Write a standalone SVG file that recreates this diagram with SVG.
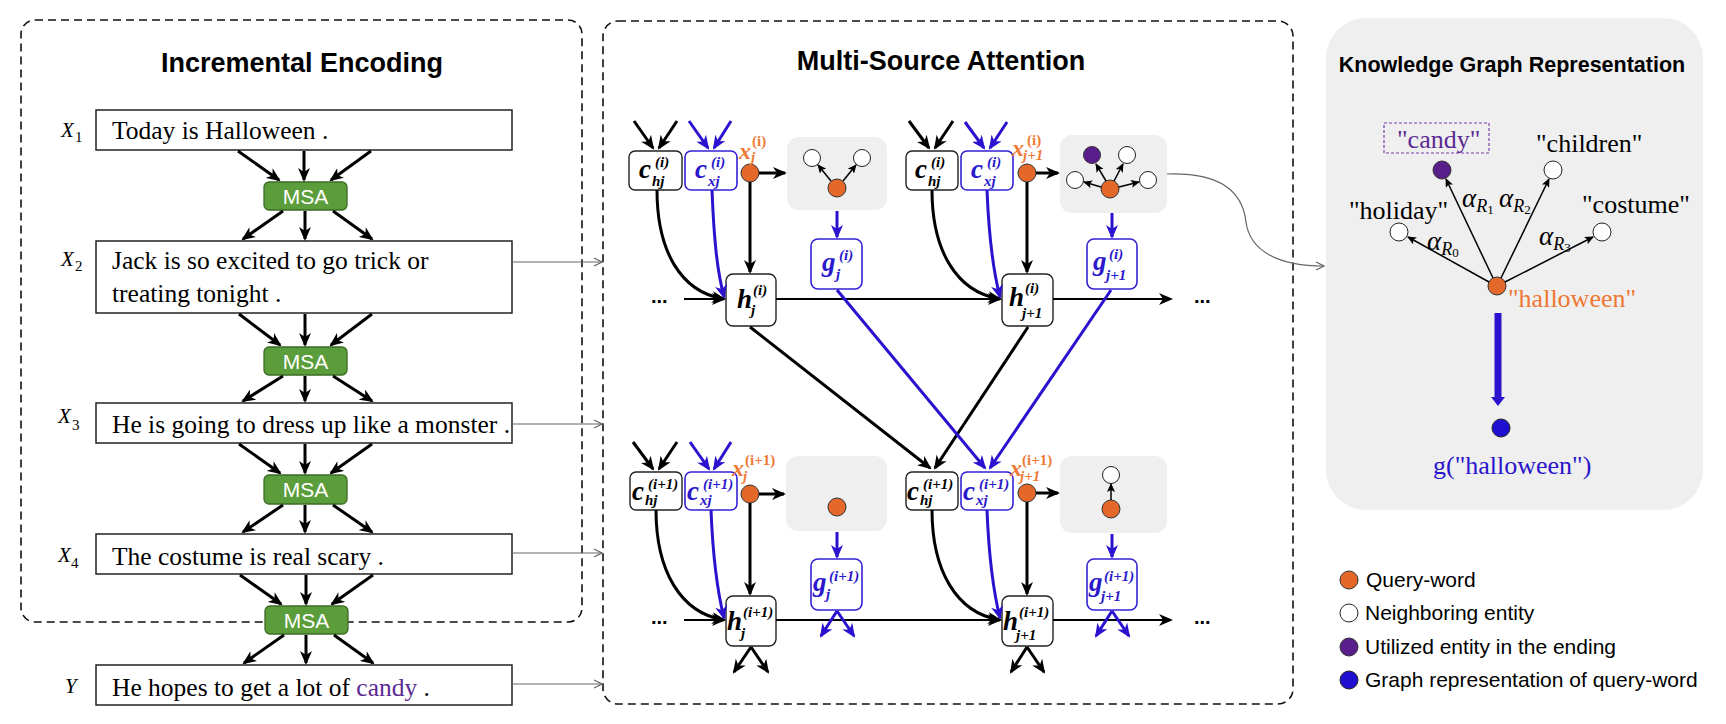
<svg xmlns="http://www.w3.org/2000/svg" width="1726" height="724" viewBox="0 0 1726 724">
<defs>
<style>
.dash{fill:none;stroke:#111;stroke-width:1.6;stroke-dasharray:8 5}
.sbox{fill:#fff;stroke:#222;stroke-width:1.5}
.sent{font-family:"Liberation Serif","Times New Roman",serif;font-size:25.5px;fill:#000}
.lab{font-family:"Liberation Serif","Times New Roman",serif;font-style:italic;font-size:21px;fill:#000}
.sub{font-style:normal;font-size:15px}
.title{font-family:"Liberation Sans",Arial,sans-serif;font-weight:bold;font-size:27px;fill:#000}
.ktitle{font-family:"Liberation Sans",Arial,sans-serif;font-weight:bold;font-size:21.5px;fill:#000}
.msa rect{fill:#5c9d3b;stroke:#3b6b26;stroke-width:1.3}
.msa text{font-family:"Liberation Sans",Arial,sans-serif;font-size:21px;fill:#fff;text-anchor:middle}
.bk{fill:#fff;stroke:#222;stroke-width:1.4}
.bb{fill:#fff;stroke:#3322d4;stroke-width:1.6}
.m{font-family:"Liberation Serif","Times New Roman",serif;font-weight:bold;font-style:italic}
.tk{fill:#000}
.tb{fill:#2a18cc}
.to{fill:#ef7a35}
.gbox{fill:#efefef}
.qo{fill:#e4682a;stroke:#333;stroke-width:1}
.qw{fill:#fff;stroke:#222;stroke-width:1}
.qp{fill:#5a1e8c;stroke:#333;stroke-width:1}
.qb{fill:#1f0fcf;stroke:#222;stroke-width:1}
.ak{fill:none;stroke:#000;stroke-width:3;marker-end:url(#hk)}
.ab{fill:none;stroke:#2a12cf;stroke-width:3;marker-end:url(#hb)}
.ah{fill:none;stroke:#000;stroke-width:2;marker-end:url(#hk)}
.as{fill:none;stroke:#000;stroke-width:1.5;marker-end:url(#hs)}
.ag{fill:none;stroke:#666;stroke-width:1.2;marker-end:url(#hg)}
.kg{font-family:"Liberation Serif","Times New Roman",serif;font-size:26px}
.al{font-family:"Liberation Serif","Times New Roman",serif;font-style:italic;font-size:27px;fill:#000}
.leg{font-family:"Liberation Sans",Arial,sans-serif;font-size:21px;fill:#000}
.dots{font-family:"Liberation Sans",Arial,sans-serif;font-weight:bold;font-size:20px;fill:#000}
</style>
<marker id="hk" viewBox="0 0 14 12" refX="12" refY="6" markerWidth="14" markerHeight="12" markerUnits="userSpaceOnUse" orient="auto"><path d="M0,0 L14,6 L0,12 L4,6 z" fill="#000"/></marker>
<marker id="hb" viewBox="0 0 14 12" refX="12" refY="6" markerWidth="14" markerHeight="12" markerUnits="userSpaceOnUse" orient="auto"><path d="M0,0 L14,6 L0,12 L4,6 z" fill="#2a12cf"/></marker>
<marker id="hs" viewBox="0 0 9 8" refX="8" refY="4" markerWidth="9" markerHeight="8" markerUnits="userSpaceOnUse" orient="auto"><path d="M0,0 L9,4 L0,8 L2,4 z" fill="#000"/></marker>
<marker id="hg" viewBox="0 0 10 10" refX="9" refY="5" markerWidth="10" markerHeight="10" markerUnits="userSpaceOnUse" orient="auto"><path d="M1,1 L9,5 L1,9" fill="none" stroke="#666" stroke-width="1.2"/></marker>
</defs>
<rect x="0" y="0" width="1726" height="724" fill="#fff"/>

<!-- panels -->
<g id="panel-incremental">
<rect class="dash" x="21" y="20" width="561" height="602" rx="14"/>
<text class="title" x="302" y="72" text-anchor="middle">Incremental Encoding</text>
</g>
<g id="panel-msa">
<rect class="dash" x="603" y="21" width="690" height="683" rx="15"/>
<text class="title" x="941" y="70" text-anchor="middle">Multi-Source Attention</text>
</g>
<g id="panel-kg">
<rect x="1326" y="18" width="377" height="492" rx="40" fill="#efefef"/>
<text class="ktitle" x="1512" y="72" text-anchor="middle">Knowledge Graph Representation</text>
</g>

<!-- sentence nodes -->
<g id="x1"><rect class="sbox" x="96" y="110" width="416" height="40"/><text class="sent" x="112" y="139">Today is Halloween .</text><text class="lab" x="61" y="137">X<tspan class="sub" x="75" y="142">1</tspan></text></g>
<g id="x2"><rect class="sbox" x="96" y="241" width="416" height="72"/><text class="sent" x="112" y="269">Jack is so excited to go trick or</text><text class="sent" x="112" y="302">treating tonight .</text><text class="lab" x="61" y="266">X<tspan class="sub" x="75" y="271">2</tspan></text></g>
<g id="x3"><rect class="sbox" x="96" y="403" width="416" height="40"/><text class="sent" x="112" y="433">He is going to dress up like a monster .</text><text class="lab" x="58" y="423">X<tspan class="sub" x="72" y="430">3</tspan></text></g>
<g id="x4"><rect class="sbox" x="96" y="534" width="416" height="40"/><text class="sent" x="112" y="565">The costume is real scary .</text><text class="lab" x="58" y="562">X<tspan class="sub" x="71" y="568">4</tspan></text></g>
<g id="y"><rect class="sbox" x="96" y="665" width="416" height="40"/><text class="sent" x="112" y="696">He hopes to get a lot of <tspan fill="#5b2a92">candy</tspan> .</text><text class="lab" x="65" y="693">Y</text></g>

<!-- MSA nodes -->
<g id="msa1" class="msa"><rect x="264" y="182" width="83" height="28" rx="5"/><text x="305.5" y="204">MSA</text></g>
<g id="msa2" class="msa"><rect x="264" y="347" width="83" height="28" rx="5"/><text x="305.5" y="369">MSA</text></g>
<g id="msa3" class="msa"><rect x="264" y="475" width="83" height="29" rx="5"/><text x="305.5" y="497">MSA</text></g>
<g id="msa4" class="msa"><rect x="265" y="606" width="83" height="28" rx="5"/><text x="306.5" y="628">MSA</text></g>

<!-- attention layer i -->
<g id="c-hj-i"><rect class="bk" x="629" y="151" width="53" height="39" rx="6"/><text class="m tk"><tspan x="639" y="178" font-size="27">c</tspan><tspan x="655" y="167" font-size="15">(i)</tspan><tspan x="652" y="186" font-size="15">hj</tspan></text></g>
<g id="c-xj-i"><rect class="bb" x="685" y="151" width="52" height="39" rx="6"/><text class="m tb"><tspan x="695" y="178" font-size="27">c</tspan><tspan x="711" y="167" font-size="15">(i)</tspan><tspan x="708" y="186" font-size="15">xj</tspan></text></g>
<g id="x-j-i"><circle class="qo" cx="750" cy="173" r="9"/><text class="to" font-family="Liberation Serif, serif" font-weight="bold"><tspan x="739" y="159" font-size="24" font-style="italic">x</tspan><tspan x="752" y="146" font-size="15">(i)</tspan><tspan x="751" y="162" font-size="15" font-style="italic">j</tspan></text></g>
<g id="graph-j-i"><rect class="gbox" x="787" y="137" width="100" height="73" rx="12"/><circle class="qw" cx="812" cy="158" r="8.5"/><circle class="qw" cx="862" cy="158" r="8.5"/><circle class="qo" cx="837" cy="188" r="9"/></g>
<g id="g-j-i"><rect class="bb" x="811" y="239" width="51" height="50" rx="7"/><text class="m tb"><tspan x="822" y="271" font-size="27">g</tspan><tspan x="839" y="260" font-size="15">(i)</tspan><tspan x="836" y="279" font-size="15">j</tspan></text></g>
<g id="h-j-i"><rect class="bk" x="726" y="274" width="50" height="52" rx="7"/><text class="m tk"><tspan x="737" y="308" font-size="27">h</tspan><tspan x="753" y="295" font-size="15">(i)</tspan><tspan x="751" y="315" font-size="15">j</tspan></text></g>

<g id="c-hj-i-2"><rect class="bk" x="906" y="151" width="52" height="39" rx="6"/><text class="m tk"><tspan x="915" y="178" font-size="27">c</tspan><tspan x="931" y="167" font-size="15">(i)</tspan><tspan x="928" y="186" font-size="15">hj</tspan></text></g>
<g id="c-xj-i-2"><rect class="bb" x="961" y="151" width="52" height="39" rx="6"/><text class="m tb"><tspan x="971" y="178" font-size="27">c</tspan><tspan x="987" y="167" font-size="15">(i)</tspan><tspan x="984" y="186" font-size="15">xj</tspan></text></g>
<g id="x-j1-i"><circle class="qo" cx="1027" cy="173" r="9"/><text class="to" font-family="Liberation Serif, serif" font-weight="bold"><tspan x="1012" y="156" font-size="24" font-style="italic">x</tspan><tspan x="1027" y="145" font-size="15">(i)</tspan><tspan x="1023" y="160" font-size="15" font-style="italic">j+1</tspan></text></g>
<g id="graph-j1-i"><rect class="gbox" x="1060" y="135" width="107" height="78" rx="12"/><circle class="qp" cx="1092" cy="155" r="8.5"/><circle class="qw" cx="1127" cy="155" r="8.5"/><circle class="qw" cx="1075" cy="180" r="8.5"/><circle class="qw" cx="1148" cy="180" r="8.5"/><circle class="qo" cx="1110" cy="189" r="9"/></g>
<g id="g-j1-i"><rect class="bb" x="1087" y="239" width="50" height="50" rx="7"/><text class="m tb"><tspan x="1093" y="270" font-size="27">g</tspan><tspan x="1109" y="259" font-size="15">(i)</tspan><tspan x="1106" y="280" font-size="15">j+1</tspan></text></g>
<g id="h-j1-i"><rect class="bk" x="1002" y="274" width="51" height="52" rx="7"/><text class="m tk"><tspan x="1009" y="306" font-size="27">h</tspan><tspan x="1025" y="293" font-size="15">(i)</tspan><tspan x="1022" y="318" font-size="15">j+1</tspan></text></g>

<!-- attention layer i+1 -->
<g id="c-hj-i1"><rect class="bk" x="630" y="472" width="52" height="38" rx="6"/><text class="m tk"><tspan x="632" y="500" font-size="27">c</tspan><tspan x="648" y="489" font-size="15">(i+1)</tspan><tspan x="645" y="505" font-size="15">hj</tspan></text></g>
<g id="c-xj-i1"><rect class="bb" x="685" y="472" width="52" height="38" rx="6"/><text class="m tb"><tspan x="687" y="500" font-size="27">c</tspan><tspan x="703" y="489" font-size="15">(i+1)</tspan><tspan x="700" y="505" font-size="15">xj</tspan></text></g>
<g id="x-j-i1"><circle class="qo" cx="750" cy="494" r="9"/><text class="to" font-family="Liberation Serif, serif" font-weight="bold"><tspan x="732" y="476" font-size="24" font-style="italic">x</tspan><tspan x="745" y="465" font-size="15">(i+1)</tspan><tspan x="743" y="481" font-size="15" font-style="italic">j</tspan></text></g>
<g id="graph-j-i1"><rect class="gbox" x="786" y="456" width="101" height="75" rx="12"/><circle class="qo" cx="837" cy="507" r="9"/></g>
<g id="g-j-i1"><rect class="bb" x="811" y="559" width="51" height="51" rx="7"/><text class="m tb"><tspan x="813" y="591" font-size="27">g</tspan><tspan x="829" y="581" font-size="15">(i+1)</tspan><tspan x="826" y="599" font-size="15">j</tspan></text></g>
<g id="h-j-i1"><rect class="bk" x="726" y="596" width="50" height="50" rx="7"/><text class="m tk"><tspan x="727" y="630" font-size="27">h</tspan><tspan x="743" y="617" font-size="15">(i+1)</tspan><tspan x="741" y="638" font-size="15">j</tspan></text></g>

<g id="c-hj-i1-2"><rect class="bk" x="906" y="472" width="52" height="38" rx="6"/><text class="m tk"><tspan x="907" y="500" font-size="27">c</tspan><tspan x="923" y="489" font-size="15">(i+1)</tspan><tspan x="920" y="505" font-size="15">hj</tspan></text></g>
<g id="c-xj-i1-2"><rect class="bb" x="961" y="472" width="52" height="38" rx="6"/><text class="m tb"><tspan x="963" y="500" font-size="27">c</tspan><tspan x="979" y="489" font-size="15">(i+1)</tspan><tspan x="976" y="505" font-size="15">xj</tspan></text></g>
<g id="x-j1-i1"><circle class="qo" cx="1027" cy="493" r="9"/><text class="to" font-family="Liberation Serif, serif" font-weight="bold"><tspan x="1010" y="476" font-size="24" font-style="italic">x</tspan><tspan x="1022" y="465" font-size="15">(i+1)</tspan><tspan x="1020" y="481" font-size="15" font-style="italic">j+1</tspan></text></g>
<g id="graph-j1-i1"><rect class="gbox" x="1060" y="456" width="107" height="77" rx="12"/><circle class="qw" cx="1111" cy="475" r="8.5"/><circle class="qo" cx="1111" cy="509" r="9"/></g>
<g id="g-j1-i1"><rect class="bb" x="1087" y="559" width="50" height="51" rx="7"/><text class="m tb"><tspan x="1089" y="591" font-size="27">g</tspan><tspan x="1104" y="581" font-size="15">(i+1)</tspan><tspan x="1101" y="601" font-size="15">j+1</tspan></text></g>
<g id="h-j1-i1"><rect class="bk" x="1002" y="596" width="51" height="50" rx="7"/><text class="m tk"><tspan x="1003" y="630" font-size="27">h</tspan><tspan x="1019" y="617" font-size="15">(i+1)</tspan><tspan x="1016" y="640" font-size="15">j+1</tspan></text></g>

<g id="ellipses"><text class="dots" x="651" y="303">...</text><text class="dots" x="1194" y="303">...</text><text class="dots" x="651" y="624">...</text><text class="dots" x="1194" y="624">...</text></g>

<!-- knowledge graph nodes -->
<g id="kg-candy"><rect x="1384" y="123" width="105" height="30" fill="none" stroke="#7a3fb0" stroke-width="1.2" stroke-dasharray="3 2"/><text class="kg" x="1397" y="148" fill="#5b2a92">"candy"</text><circle class="qp" cx="1442" cy="170" r="9"/></g>
<g id="kg-children"><text class="kg" x="1536" y="152" fill="#000">"children"</text><circle class="qw" cx="1553" cy="170" r="9"/></g>
<g id="kg-holiday"><text class="kg" x="1349" y="219" fill="#000">"holiday"</text><circle class="qw" cx="1399" cy="232" r="9"/></g>
<g id="kg-costume"><text class="kg" x="1582" y="213" fill="#000">"costume"</text><circle class="qw" cx="1602" cy="232" r="9"/></g>
<g id="kg-halloween"><circle class="qo" cx="1497" cy="286" r="9"/><text class="kg" x="1508" y="307" fill="#ee7733">"halloween"</text></g>
<g id="kg-weights">
<text class="al" x="1427" y="250">α<tspan font-size="18" dy="5">R</tspan><tspan font-size="13" dy="2" font-style="normal">0</tspan></text>
<text class="al" x="1462" y="207">α<tspan font-size="18" dy="5">R</tspan><tspan font-size="13" dy="2" font-style="normal">1</tspan></text>
<text class="al" x="1499" y="207">α<tspan font-size="18" dy="5">R</tspan><tspan font-size="13" dy="2" font-style="normal">2</tspan></text>
<text class="al" x="1539" y="245">α<tspan font-size="18" dy="5">R</tspan><tspan font-size="13" dy="2" font-style="normal">3</tspan></text>
</g>
<g id="kg-g"><circle class="qb" cx="1501" cy="428" r="9"/><text class="kg" x="1433" y="474" fill="#2a14cc">g("halloween")</text></g>

<!-- legend -->
<g id="legend">
<circle class="qo" cx="1349" cy="580" r="9"/><text class="leg" x="1366" y="587">Query-word</text>
<circle class="qw" cx="1349" cy="613" r="9"/><text class="leg" x="1365" y="620">Neighboring entity</text>
<circle class="qp" cx="1349" cy="647" r="9"/><text class="leg" x="1365" y="654">Utilized entity in the ending</text>
<circle class="qb" cx="1349" cy="680" r="9"/><text class="leg" x="1365" y="687">Graph representation of query-word</text>
</g>

<!-- connectors -->
<g id="connectors">
<path class="ak" d="M238,151 L279,180"/><path class="ak" d="M304,151 L304,180"/><path class="ak" d="M371,151 L331,180"/>
<path class="ak" d="M283,211 L243,239"/><path class="ak" d="M305,211 L305,239"/><path class="ak" d="M333,211 L372,239"/>
<path class="ak" d="M239,314 L280,345"/><path class="ak" d="M305,314 L305,345"/><path class="ak" d="M372,314 L331,345"/>
<path class="ak" d="M283,376 L243,401"/><path class="ak" d="M305,376 L305,401"/><path class="ak" d="M333,376 L372,401"/>
<path class="ak" d="M239,444 L280,473"/><path class="ak" d="M305,444 L305,473"/><path class="ak" d="M372,444 L331,473"/>
<path class="ak" d="M283,505 L243,532"/><path class="ak" d="M305,505 L305,532"/><path class="ak" d="M333,505 L372,532"/>
<path class="ak" d="M240,575 L281,604"/><path class="ak" d="M306,575 L306,604"/><path class="ak" d="M373,575 L332,604"/>
<path class="ak" d="M284,635 L244,663"/><path class="ak" d="M306,635 L306,663"/><path class="ak" d="M334,635 L373,663"/>
<path class="ag" d="M512,262 L602,262"/><path class="ag" d="M512,424 L602,424"/><path class="ag" d="M512,553 L602,553"/><path class="ag" d="M512,684 L602,684"/>
<path class="ak" d="M634,121 L653,148"/><path class="ak" d="M677,121 L659,148"/>
<path class="ab" d="M689,121 L708,148"/><path class="ab" d="M731,121 L714,148"/>
<path class="ak" d="M909,121 L929,148"/><path class="ak" d="M953,121 L935,148"/>
<path class="ab" d="M965,122 L984,148"/><path class="ab" d="M1007,122 L990,148"/>
<path class="ak" d="M633,442 L653,469"/><path class="ak" d="M677,442 L659,469"/>
<path class="ab" d="M690,442 L709,469"/><path class="ab" d="M731,442 L714,469"/>
<path class="ak" d="M759,173 L785,173"/><path class="ak" d="M1036,173 L1058,173"/>
<path class="ak" d="M759,494 L784,494"/><path class="ak" d="M1036,493 L1058,493"/>
<path class="ak" d="M750,182 L750,272"/><path class="ak" d="M1027,182 L1027,272"/>
<path class="ak" d="M750,503 L750,594"/><path class="ak" d="M1027,502 L1027,594"/>
<path class="ab" d="M837,211 L837,237"/><path class="ab" d="M1112,213 L1112,237"/>
<path class="ab" d="M837,532 L837,557"/><path class="ab" d="M1112,534 L1112,557"/>
<path class="ak" d="M657,190 C657,250 680,292 724,299"/><path class="ab" d="M712,190 C714,240 717,270 724,297"/>
<path class="ak" d="M932,190 C932,250 956,292 1000,299"/><path class="ab" d="M987,190 C989,240 993,270 1000,297"/>
<path class="ak" d="M656,510 C656,570 680,613 724,620"/><path class="ab" d="M711,510 C713,560 717,590 724,618"/>
<path class="ak" d="M932,510 C932,570 956,613 1000,620"/><path class="ab" d="M987,510 C989,560 993,590 1000,618"/>
<path class="ah" d="M684,299 L724,299"/><path class="ah" d="M776,299 L1000,299"/><path class="ah" d="M1053,299 L1171,299"/>
<path class="ah" d="M684,620 L724,620"/><path class="ah" d="M776,620 L1000,620"/><path class="ah" d="M1053,620 L1171,620"/>
<path class="ak" d="M750,327 L930,468"/><path class="ak" d="M1028,327 L935,468"/>
<path class="ab" d="M837,290 L985,468"/><path class="ab" d="M1111,290 L990,468"/>
<path class="ak" d="M751,647 L734,672"/><path class="ak" d="M751,647 L768,672"/>
<path class="ab" d="M837,611 L821,636"/><path class="ab" d="M837,611 L854,636"/>
<path class="ak" d="M1027,647 L1011,672"/><path class="ak" d="M1027,647 L1044,672"/>
<path class="ab" d="M1112,611 L1096,636"/><path class="ab" d="M1112,611 L1129,636"/>
<path class="as" d="M831,181 L818,165"/><path class="as" d="M843,181 L856,165"/>
<path class="as" d="M1106,181 L1096,164"/><path class="as" d="M1114,181 L1123,164"/>
<path class="as" d="M1101,187 L1084,182"/><path class="as" d="M1119,187 L1139,182"/>
<path class="as" d="M1111,500 L1111,484"/>
<path class="ag" d="M1167,174 C1225,172 1243,195 1246,222 C1250,252 1280,266 1324,266"/>
<path class="as" d="M1489,282 L1408,237"/><path class="as" d="M1493,278 L1446,179"/>
<path class="as" d="M1501,278 L1549,179"/><path class="as" d="M1505,282 L1593,237"/>
<path d="M1498,313 L1498,398" stroke="#2a12cf" stroke-width="7" fill="none"/>
<polygon points="1491,397 1505,397 1498,406" fill="#2a12cf"/>
</g>
</svg>
